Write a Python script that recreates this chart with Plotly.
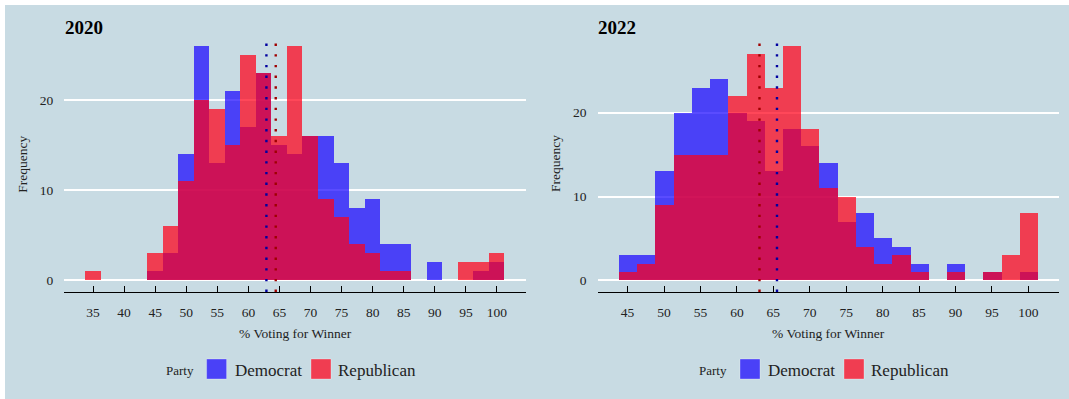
import plotly.graph_objects as go

# ---------------- data ----------------
bins_2020 = [35, 37.5, 40, 42.5, 45, 47.5, 50, 52.5, 55, 57.5, 60, 62.5, 65, 67.5,
             70, 72.5, 75, 77.5, 80, 82.5, 85, 87.5, 90, 92.5, 95, 97.5, 100]
dem_2020 = [0, 0, 0, 0, 1, 3, 14, 26, 13, 21, 17, 23, 15, 14,
            16, 16, 13, 8, 9, 4, 4, 0, 2, 0, 0, 1, 2]
rep_2020 = [1, 0, 0, 0, 3, 6, 11, 20, 19, 15, 25, 23, 16, 26,
            16, 9, 7, 4, 3, 1, 1, 0, 0, 0, 2, 2, 3]

bins_2022 = [45, 47.5, 50, 52.5, 55, 57.5, 60, 62.5, 65, 67.5,
             70, 72.5, 75, 77.5, 80, 82.5, 85, 87.5, 90, 92.5, 95, 97.5, 100]
dem_2022 = [3, 3, 13, 20, 23, 24, 20, 19, 13, 18,
            16, 14, 7, 8, 5, 4, 2, 0, 2, 0, 1, 0, 1]
rep_2022 = [1, 2, 9, 15, 15, 15, 22, 27, 23, 28,
            18, 11, 10, 4, 2, 3, 1, 0, 1, 0, 1, 3, 8]

median_dem = {"2020": 62.9, "2022": 65.5}
median_rep = {"2020": 64.4, "2022": 63.1}

xticks_2020 = [35, 40, 45, 50, 55, 60, 65, 70, 75, 80, 85, 90, 95, 100]
xticks_2022 = [45, 50, 55, 60, 65, 70, 75, 80, 85, 90, 95, 100]
yticks = [0, 10, 20]
bin_width = 2.5

# ---------------- styling ----------------
W, H = 1069, 399
BG = "#c8dbe3"
DEM = "rgba(20,0,255,0.70)"
REP = "rgba(255,0,25,0.72)"
DEM_LINE = "#0000a0"
REP_LINE = "#a00000"
FONT = "Liberation Serif"


def px(x):
    return x / W


def py(y):
    return 1 - y / H


fig = go.Figure()

panels = [
    ("2020", bins_2020, dem_2020, rep_2020, "x", "y"),
    ("2022", bins_2022, dem_2022, rep_2022, "x2", "y2"),
]
for name, bins, dem, rep, xa, ya in panels:
    fig.add_trace(go.Bar(x=bins, y=dem, width=bin_width, name="Democrat",
                         marker=dict(color=DEM, line=dict(width=0)),
                         xaxis=xa, yaxis=ya, showlegend=False))
    fig.add_trace(go.Bar(x=bins, y=rep, width=bin_width, name="Republican",
                         marker=dict(color=REP, line=dict(width=0)),
                         xaxis=xa, yaxis=ya, showlegend=False))

shapes = [
    dict(type="rect", xref="paper", yref="paper", x0=px(5), x1=1, y0=0, y1=py(5),
         fillcolor=BG, line=dict(width=0), layer="below"),
]
for name, xa, ya in [("2020", "x", "y"), ("2022", "x2", "y2")]:
    for val, col in [(median_dem[name], DEM_LINE), (median_rep[name], REP_LINE)]:
        shapes.append(dict(type="line", xref=xa, yref=f"{ya} domain",
                           x0=val, x1=val, y0=0, y1=0.99,
                           line=dict(color=col, width=2.4, dash="2.4px,8.3px")))

axis_common = dict(
    showgrid=False, zeroline=False, showline=True, linecolor="black", linewidth=1.3,
    ticks="inside", ticklen=6, tickcolor="black", tickwidth=1.3,
    tickfont=dict(family=FONT, size=13.5, color="#222"),
    automargin=False, fixedrange=True,
)
yaxis_common = dict(
    showgrid=True, gridcolor="white", gridwidth=2, zeroline=False, showline=False,
    ticks="", tickvals=yticks,
    tickfont=dict(family=FONT, size=13.5, color="#222"),
    automargin=False, fixedrange=True, ticklabelstandoff=10,
)

dom_y = [py(292), py(34)]
fig.update_layout(
    width=W, height=H,
    margin=dict(l=0, r=0, t=0, b=0),
    paper_bgcolor="white", plot_bgcolor="rgba(0,0,0,0)",
    barmode="overlay", bargap=0,
    showlegend=False,
    font=dict(family=FONT),
    xaxis=dict(domain=[px(64.3), px(525.7)], range=[30.375, 104.625], anchor="y",
               tickvals=xticks_2020, ticklabelstandoff=8, **axis_common),
    yaxis=dict(domain=dom_y, range=[-1.3, 27.3], anchor="x", **yaxis_common),
    xaxis2=dict(domain=[px(597.5), px(1058.5)], range=[40.875, 104.125], anchor="y2",
                tickvals=xticks_2022, ticklabelstandoff=8, **axis_common),
    yaxis2=dict(domain=dom_y, range=[-1.4, 29.4], anchor="x2", **yaxis_common),
    shapes=shapes,
)

ann = []
def text(t, x, y, size, xanchor="left", bold=False, angle=0, color="#222"):
    ann.append(dict(text=f"<b>{t}</b>" if bold else t, x=px(x), y=py(y),
                    xref="paper", yref="paper", xanchor=xanchor, yanchor="middle",
                    showarrow=False, textangle=angle,
                    font=dict(family=FONT, size=size, color=color)))

# titles
text("2020", 62.5, 27.5, 19, bold=True, color="black")
text("2022", 595.5, 27.5, 19, bold=True, color="black")
# axis titles
text("% Voting for Winner", 295, 333, 13.5, xanchor="center")
text("% Voting for Winner", 828, 333, 13.5, xanchor="center")
text("Frequency", 21.7, 164, 13.5, xanchor="center", angle=-90)
text("Frequency", 555, 164, 13.5, xanchor="center", angle=-90)

# legends (drawn manually)
for x_party, x_sw1, x_dem, x_sw2, x_rep in [(165.6, 206.6, 234.8, 311, 338),
                                            (698.6, 740, 768, 844, 871.3)]:
    text("Party", x_party - 2, 370, 13)
    text("Democrat", x_dem - 2, 370, 17)
    text("Republican", x_rep - 2, 370, 17)
    for x0, col in [(x_sw1, DEM), (x_sw2, REP)]:
        fig.add_shape(type="rect", xref="paper", yref="paper",
                      x0=px(x0), x1=px(x0 + 20), y0=py(379), y1=py(359),
                      fillcolor=col, line=dict(width=0.6, color="rgba(255,255,255,0.5)"))

fig.update_layout(annotations=ann)
fig.write_html("out.html")
